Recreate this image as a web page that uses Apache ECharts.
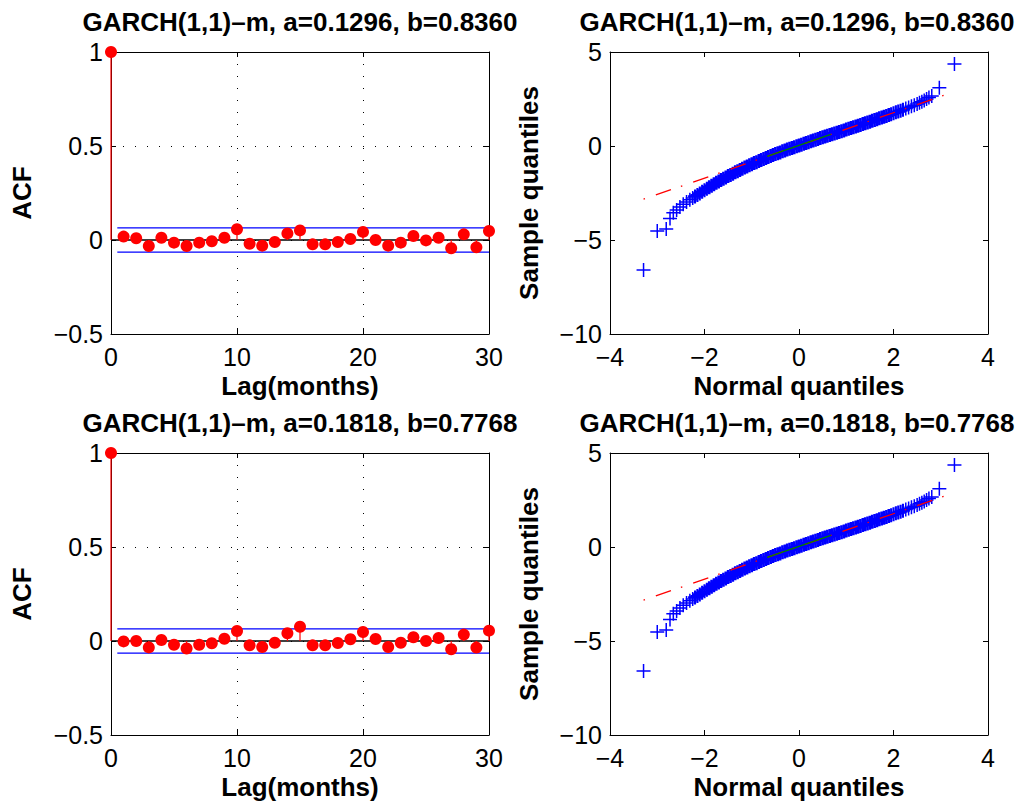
<!DOCTYPE html>
<html>
<head>
<meta charset="utf-8">
<script src="https://cdn.jsdelivr.net/npm/echarts@6/dist/echarts.min.js"></script>
<style>
html,body{margin:0;padding:0;background:#fff;}
#chart{width:1035px;height:811px;}
</style>
</head>
<body>
<div id="chart"></div>
<script>
// ---------- data ----------
var titleTop = "GARCH(1,1)\u2013m, a=0.1296, b=0.8360";
var titleBottom = "GARCH(1,1)\u2013m, a=0.1818, b=0.7768";

var lags = [0,1,2,3,4,5,6,7,8,9,10,11,12,13,14,15,16,17,18,19,20,21,22,23,24,25,26,27,28,29,30];
var acfTop = [1, 0.018, 0.009, -0.032, 0.012, -0.014, -0.032, -0.014, -0.007, 0.012, 0.057, -0.020, -0.030, -0.011, 0.035, 0.051, -0.023, -0.023, -0.011, 0.005, 0.043, 0.000, -0.030, -0.014, 0.021, -0.002, 0.012, -0.044, 0.030, -0.039, 0.048];
var acfBottom = [1, -0.002, 0.000, -0.034, 0.005, -0.020, -0.040, -0.020, -0.012, 0.012, 0.053, -0.023, -0.032, -0.009, 0.041, 0.076, -0.023, -0.023, -0.011, 0.009, 0.048, 0.011, -0.032, -0.009, 0.020, 0.000, 0.016, -0.044, 0.034, -0.035, 0.055];
var confTop = [0.064, -0.064];
var confBottom = [0.064, -0.064];
var confLagRange = [0.5, 30];

var qqX = [-3.29, -3.00, -2.81, -2.73, -2.66, -2.59, -2.52, -2.45, -2.38, -2.31, -2.25,
  -2.20, -2.15, -2.10, -2.05, -2.00, -1.95, -1.90, -1.85, -1.80, -1.75, -1.70, -1.65, -1.60, -1.55, -1.50, -1.45, -1.40, -1.35, -1.30, -1.25, -1.20, -1.15, -1.10, -1.05, -1.00, -0.95, -0.90, -0.85, -0.80, -0.75, -0.70, -0.65, -0.60, -0.55, -0.50, -0.45, -0.40, -0.35, -0.30, -0.25, -0.20, -0.15, -0.10, -0.05,
  0.00, 0.05, 0.10, 0.15, 0.20, 0.25, 0.30, 0.35, 0.40, 0.45, 0.50, 0.55, 0.60, 0.65, 0.70, 0.75, 0.80, 0.85, 0.90, 0.95, 1.00, 1.05, 1.10, 1.15, 1.20, 1.25, 1.30, 1.35, 1.40, 1.45, 1.50, 1.55, 1.60, 1.65, 1.70, 1.75, 1.80, 1.85, 1.90, 1.95, 2.00, 2.05, 2.10, 2.15, 2.20,
  2.26, 2.32, 2.38, 2.44, 2.50, 2.55, 2.60, 2.65, 2.70, 2.75, 2.81, 2.97, 3.29];
var qqY = [-6.60, -4.52, -4.42, -3.85, -3.55, -3.40, -3.25, -3.10, -2.98, -2.86, -2.76,
  -2.68, -2.61, -2.52, -2.44, -2.36, -2.27, -2.19, -2.12, -2.03, -1.96, -1.89, -1.81, -1.74, -1.68, -1.60, -1.54, -1.47, -1.40, -1.34, -1.28, -1.21, -1.15, -1.09, -1.03, -0.97, -0.91, -0.86, -0.80, -0.74, -0.69, -0.64, -0.58, -0.53, -0.48, -0.43, -0.38, -0.34, -0.28, -0.24, -0.19, -0.14, -0.10, -0.06, -0.01,
  0.03, 0.07, 0.12, 0.16, 0.20, 0.25, 0.29, 0.33, 0.37, 0.42, 0.46, 0.50, 0.54, 0.59, 0.63, 0.67, 0.71, 0.75, 0.79, 0.83, 0.88, 0.92, 0.96, 1.00, 1.04, 1.08, 1.12, 1.17, 1.21, 1.25, 1.29, 1.34, 1.38, 1.42, 1.47, 1.51, 1.56, 1.60, 1.65, 1.69, 1.74, 1.79, 1.83, 1.88, 1.93,
  1.99, 2.05, 2.11, 2.17, 2.24, 2.30, 2.36, 2.42, 2.50, 2.58, 2.66, 3.10, 4.36];
var refLineX = [-3.29, 3.29];
var refLineY = [-2.83, 2.89];
var quartLineX = [-0.674, 0.674];
var quartLineY = [-0.555, 0.615];

var acfXTicks = [0, 30, 10];     // min, max, interval
var acfYTicks = [-0.5, 1, 0.5];
var qqXTicks = [-4, 4, 2];
var qqYTicks = [-10, 5, 5];

// ---------- helpers ----------
var FONT = "'Liberation Sans', Arial, Helvetica, sans-serif";
function zip(xs, ys){ return xs.map(function(x,i){ return [x, ys[i]]; }); }
function fmt(v){ return String(v).replace('-', '\u2212'); }
// dense central points overlap heavily in the original; thicker stroke there
function crossData(xs, ys){
  return xs.map(function(x,i){
    var ax = Math.abs(x);
    var w = ax <= 1.9 ? 2.6 : (ax <= 2.2 ? 2.1 : 1.5);
    return {value:[x, ys[i]], itemStyle:{borderWidth:w}};
  });
}

var grids = [
  {left:111, top:52, width:378, height:282},
  {left:610, top:52, width:378, height:282},
  {left:111, top:453, width:378, height:282},
  {left:610, top:453, width:378, height:282}
];

var xAxes = [], yAxes = [];
function addAxes(gi, xt, yt, xname, yname, showGrid){
  var gridLine = {show:showGrid, lineStyle:{color:'#000', width:1, type:[1, 11]}};
  var line = {show:true, onZero:false, lineStyle:{color:'#000', width:1}};
  var tick = {show:true, inside:true, length:5, lineStyle:{color:'#000', width:1}};
  xAxes.push({gridIndex:gi, type:'value', position:'bottom', min:xt[0], max:xt[1], interval:xt[2],
    axisLine:line, axisTick:tick, splitLine:gridLine,
    axisLabel:{show:true, fontSize:25, color:'#000', fontFamily:FONT, margin:10, formatter:fmt},
    name:xname, nameLocation:'middle', nameGap:39,
    nameTextStyle:{fontSize:26, fontWeight:'bold', color:'#000', fontFamily:FONT}});
  xAxes.push({gridIndex:gi, type:'value', position:'top', min:xt[0], max:xt[1], interval:xt[2],
    axisLine:line, axisTick:tick, splitLine:{show:false}, axisLabel:{show:false}});
  yAxes.push({gridIndex:gi, type:'value', position:'left', min:yt[0], max:yt[1], interval:yt[2],
    axisLine:line, axisTick:tick, splitLine:gridLine,
    axisLabel:{show:true, fontSize:25, color:'#000', fontFamily:FONT, margin:8, formatter:fmt},
    name:yname, nameLocation:'middle', nameGap:xname === 'Lag(months)' ? 76 : 68,
    nameTextStyle:{fontSize:26, fontWeight:'bold', color:'#000', fontFamily:FONT}});
  yAxes.push({gridIndex:gi, type:'value', position:'right', min:yt[0], max:yt[1], interval:yt[2],
    axisLine:line, axisTick:tick, splitLine:{show:false}, axisLabel:{show:false}});
}
addAxes(0, acfXTicks, acfYTicks, 'Lag(months)', 'ACF', true);
addAxes(1, qqXTicks, qqYTicks, 'Normal quantiles', 'Sample quantiles', false);
addAxes(2, acfXTicks, acfYTicks, 'Lag(months)', 'ACF', true);
addAxes(3, qqXTicks, qqYTicks, 'Normal quantiles', 'Sample quantiles', false);

var series = [];
function addAcf(gi, acf, conf){
  var ax = gi*2;
  series.push({type:'line', xAxisIndex:ax, yAxisIndex:ax, data:[[acfXTicks[0],0],[acfXTicks[1],0]],
    symbol:'none', lineStyle:{color:'#000', width:1.5}, z:2, silent:true});
  series.push({type:'line', xAxisIndex:ax, yAxisIndex:ax, data:[[confLagRange[0],conf[0]],[confLagRange[1],conf[0]]],
    symbol:'none', lineStyle:{color:'#0000ff', width:1.2}, z:3, silent:true});
  series.push({type:'line', xAxisIndex:ax, yAxisIndex:ax, data:[[confLagRange[0],conf[1]],[confLagRange[1],conf[1]]],
    symbol:'none', lineStyle:{color:'#0000ff', width:1.2}, z:3, silent:true});
  series.push({type:'bar', xAxisIndex:ax, yAxisIndex:ax, data:zip(lags, acf), barWidth:1.2,
    itemStyle:{color:'#ff0000', opacity:1}, clip:false, z:4, silent:true});
  series.push({type:'scatter', xAxisIndex:ax, yAxisIndex:ax, data:zip(lags, acf), symbol:'circle', symbolSize:12,
    itemStyle:{color:'#ff0000', opacity:1}, clip:false, z:5, silent:true});
}
function addQQ(gi){
  var ax = gi*2;
  series.push({type:'scatter', xAxisIndex:ax, yAxisIndex:ax, data:crossData(qqX, qqY),
    symbol:'path://M7,0L7,14M0,7L14,7', symbolSize:14,
    itemStyle:{color:'none', borderColor:'#0000ff', borderWidth:1.5, opacity:1}, clip:false, z:3, silent:true});
  series.push({type:'line', xAxisIndex:ax, yAxisIndex:ax, data:zip(refLineX, refLineY), symbol:'none',
    lineStyle:{color:'#ff0000', width:1.3, type:[1.5, 11.5, 16, 10.5]}, z:4, silent:true});
  series.push({type:'line', xAxisIndex:ax, yAxisIndex:ax, data:zip(quartLineX, quartLineY), symbol:'none',
    lineStyle:{color:'#008000', width:1.3}, z:5, silent:true});
}
addAcf(0, acfTop, confTop);
addQQ(1);
addAcf(2, acfBottom, confBottom);
addQQ(3);

function mkTitle(text, cx, top){
  return {text:text, left:cx, top:top, textAlign:'center', padding:0,
    textStyle:{fontSize:26, fontWeight:'bold', color:'#000', fontFamily:FONT}};
}

var chart = echarts.init(document.getElementById('chart'), null, {renderer:'svg'});
chart.setOption({
  animation:false,
  backgroundColor:'#fff',
  title:[mkTitle(titleTop, 300, 9), mkTitle(titleTop, 797, 9), mkTitle(titleBottom, 300, 410), mkTitle(titleBottom, 797, 410)],
  grid:grids,
  xAxis:xAxes,
  yAxis:yAxes,
  series:series
});
</script>
</body>
</html>
